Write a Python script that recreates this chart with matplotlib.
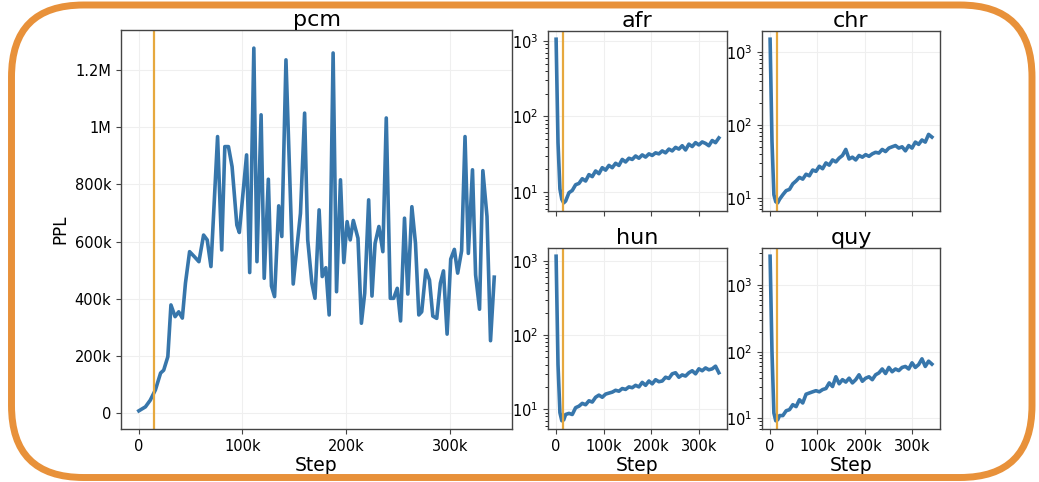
import matplotlib
matplotlib.use("Agg")
import matplotlib.pyplot as plt
from matplotlib.patches import FancyBboxPatch
from matplotlib.ticker import FuncFormatter, MultipleLocator

# perplexity of pcm over training steps
pcm_steps = [0, 6400, 11000, 16000, 21000, 24000, 28000, 31000, 35000, 38500,
             42000, 45000, 49000, 53500, 58000, 62500, 66000, 69600, 76000, 80000,
             83000, 86500, 90000, 94600, 97000, 104000, 107000, 111000, 114000, 118000,
             121000, 125000, 128000, 131000, 135000, 138000, 142000, 149000, 152000, 156000,
             160000, 163000, 167000, 170000, 174000, 177000, 180500, 183700, 187500, 190800,
             194600, 197800, 201000, 204000, 207000, 211500, 214800, 218000, 221800, 225000,
             228000, 231700, 235500, 238800, 242700, 245900, 249400, 252600, 256400, 259600,
             263500, 267000, 270200, 273000, 277000, 280500, 283700, 287500, 291000, 294000,
             297500, 301000, 304500, 307700, 311500, 314800, 318000, 322000, 325000, 328800,
             332000, 336000, 339400, 343000]
pcm_ppl = [9e3, 23e3, 46e3, 82e3, 141e3, 151e3, 198e3, 379e3, 338e3, 355e3,
           333e3, 455e3, 565e3, 548e3, 530e3, 623e3, 606e3, 513e3, 967e3, 571e3,
           932e3, 932e3, 862e3, 658e3, 632e3, 903e3, 492e3, 1276e3, 530e3, 1043e3,
           472e3, 818e3, 445e3, 408e3, 725e3, 618e3, 1235e3, 452e3, 560e3, 699e3,
           1049e3, 606e3, 455e3, 402e3, 711e3, 478e3, 509e3, 344e3, 1259e3, 425e3,
           816e3, 527e3, 670e3, 606e3, 674e3, 612e3, 315e3, 420e3, 746e3, 410e3,
           594e3, 653e3, 565e3, 1032e3, 402e3, 402e3, 437e3, 323e3, 682e3, 417e3,
           722e3, 594e3, 344e3, 355e3, 501e3, 466e3, 340e3, 332e3, 455e3, 498e3,
           277e3, 539e3, 573e3, 490e3, 568e3, 967e3, 559e3, 851e3, 484e3, 364e3,
           848e3, 688e3, 254e3, 476e3]

# the other languages share one step grid
steps = [0, 4000, 8000, 12000, 16000, 20000, 27000, 34000, 41000, 48000,
         55000, 62000, 69000, 76000, 83000, 90000, 97000, 104000, 111000, 118000,
         125000, 132000, 139000, 146000, 153000, 160000, 167000, 174000, 181000, 188000,
         195000, 202000, 209000, 216000, 223000, 230000, 237000, 244000, 251000, 258000,
         265000, 272000, 279000, 286000, 293000, 300000, 307000, 314000, 321000, 328000,
         335000, 342000]
afr_ppl = [1050, 45, 11, 8, 7.2, 7.6, 9.8, 10.5, 12.5, 13,
           15, 14, 17, 16, 19, 17.5, 21, 19.5, 22.5, 21,
           24, 22.5, 27, 25, 28, 27, 30, 28, 31, 29,
           32, 30.5, 33, 32, 35, 33, 37, 35, 39, 37,
           41, 36, 43, 40, 45, 42, 46, 44, 41, 48,
           45, 52]
chr_ppl = [1500, 60, 11, 8.8, 8.5, 9.5, 11, 12.5, 13, 15.5,
           17, 19, 18, 21, 20, 24, 23, 27, 25, 30,
           28, 33, 31, 35, 38, 46, 34, 36, 33, 38,
           36, 39, 37, 40, 42, 41, 46, 43, 48, 50,
           52, 48, 50, 44, 52, 48, 58, 54, 62, 58,
           74, 68]
hun_ppl = [1150, 40, 9, 7, 7.2, 8.5, 8.8, 8.5, 10.5, 11,
           12, 11.5, 13, 12.5, 14.5, 15.5, 14.5, 16, 16.5, 17,
           18, 17.5, 19, 18.5, 20, 19.5, 21, 20, 23, 21,
           24, 22, 25, 23.5, 24, 27, 26, 30, 31, 27,
           29, 28, 31, 33, 30, 35, 33, 36, 34, 35,
           38, 31]
quy_ppl = [2700, 100, 12, 9.2, 9.5, 11, 11, 13, 13.5, 16,
           15, 19, 17, 23, 24, 25, 26, 25, 27, 28,
           34, 30, 42, 33, 38, 35, 40, 34, 38, 45,
           36, 40, 42, 38, 45, 48, 55, 47, 58, 50,
           55, 52, 58, 60, 55, 68, 58, 64, 78, 60,
           72, 65]

cutoff_step = 15000

line_color = '#3776ab'
cut_color = '#e6a83e'
border_color = '#e8913a'


def short_num(v, pos):
    # 200000 -> 200k, 1200000 -> 1.2M
    if abs(v) >= 1e6:
        return f'{v / 1e6:g}M'
    if abs(v) >= 1e3:
        return f'{v / 1e3:g}k'
    return f'{v:g}'


def style_axes(ax):
    ax.grid(True, color='#efefef', linewidth=0.8)
    ax.set_axisbelow(True)
    for s in ax.spines.values():
        s.set_color('#444444')
        s.set_linewidth(1.0)
    ax.tick_params(labelsize=10.5, color='#444444')
    ax.xaxis.set_major_formatter(FuncFormatter(short_num))
    ax.xaxis.set_major_locator(MultipleLocator(100000))


fig = plt.figure(figsize=(10.39, 4.82), dpi=100)

# big panel
ax = fig.add_axes([0.1165, 0.110, 0.3763, 0.8278])
ax.plot(pcm_steps, pcm_ppl, color=line_color, linewidth=2.6)
ax.axvline(cutoff_step, color=cut_color, linewidth=1.6)
style_axes(ax)
ax.yaxis.set_major_locator(MultipleLocator(200000))
ax.yaxis.set_major_formatter(FuncFormatter(short_num))
ax.set_title('pcm', fontsize=16, pad=3)
ax.set_xlabel('Step', fontsize=13.5, labelpad=2)
ax.set_ylabel('PPL', fontsize=12)

# small log panels
small = [
    ('afr', afr_ppl, [0.5274, 0.5622, 0.1723, 0.3734], False),
    ('chr', chr_ppl, [0.7334, 0.5622, 0.1713, 0.3734], False),
    ('hun', hun_ppl, [0.5274, 0.110, 0.1723, 0.3755], True),
    ('quy', quy_ppl, [0.7334, 0.110, 0.1713, 0.3755], True),
]
for name, vals, rect, bottom in small:
    a = fig.add_axes(rect)
    a.plot(steps, vals, color=line_color, linewidth=2.6)
    a.axvline(cutoff_step, color=cut_color, linewidth=1.6)
    a.set_yscale('log')
    style_axes(a)
    a.set_title(name, fontsize=16, pad=3)
    if bottom:
        a.set_xlabel('Step', fontsize=13.5, labelpad=2)
    else:
        a.tick_params(axis='x', labelbottom=False)

# rounded orange frame around the whole figure
frame = FancyBboxPatch((0.115, 0.045), 10.205, 4.725,
                       boxstyle='round,pad=0,rounding_size=0.72',
                       transform=fig.dpi_scale_trans, fill=False,
                       edgecolor=border_color, linewidth=5)
fig.patches.append(frame)

fig.savefig('out.png', dpi=100)
